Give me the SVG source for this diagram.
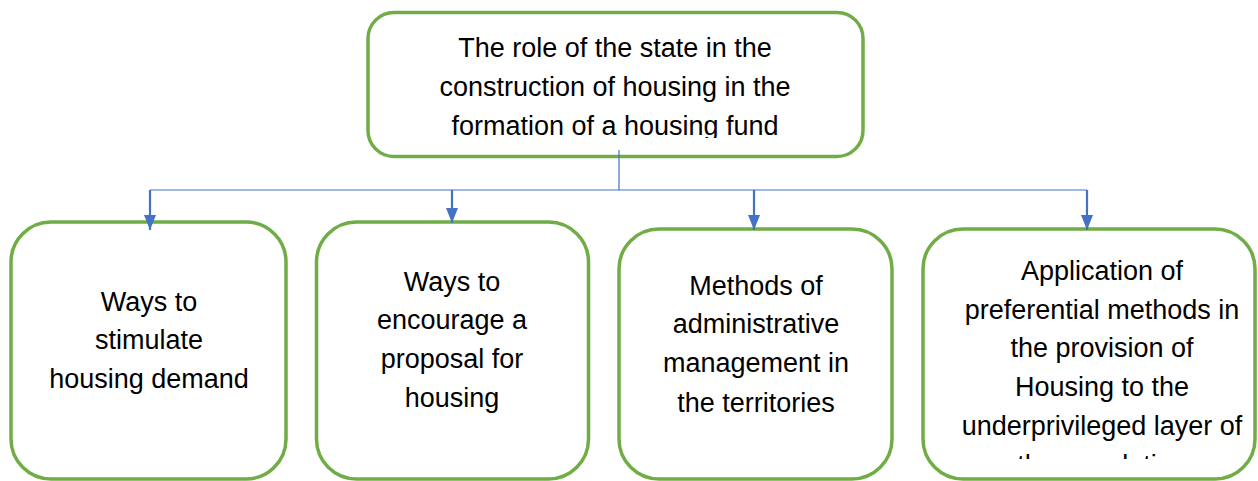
<svg xmlns="http://www.w3.org/2000/svg" width="1258" height="481" viewBox="0 0 1258 481">
<style>
.box{fill:#ffffff;stroke:#70AD47;stroke-width:3.5}
.t{font-family:"Liberation Sans",Arial,sans-serif;font-size:27px;fill:#000000;text-anchor:middle}
.thin{fill:none;stroke:#4472C4;stroke-width:1.2}
.drop{fill:none;stroke:#4472C4;stroke-width:2.2}
</style>
<defs>
<marker id="arr" viewBox="0 0 15 12" refX="15" refY="6" markerWidth="15" markerHeight="12" markerUnits="userSpaceOnUse" orient="auto">
<path d="M0,0 L15,6 L0,12 Z" fill="#4472C4"/>
</marker>
<clipPath id="clipTop"><rect x="360" y="0" width="520" height="138"/></clipPath>
<clipPath id="clipB4"><rect x="900" y="200" width="358" height="259"/></clipPath>
</defs>
<rect width="1258" height="481" fill="#ffffff"/>
<g id="n0">
<rect class="box" x="368" y="12.5" width="495" height="144" rx="26" ry="26"/>
<g clip-path="url(#clipTop)">
<text class="t" x="615" y="57">The role of the state in the</text>
<text class="t" x="615" y="96">construction of housing in the</text>
<text class="t" x="615" y="135">formation of a housing fund</text>
</g>
</g>
<g id="n1">
<rect class="box" x="11" y="222" width="275" height="257" rx="40" ry="40"/>
<text class="t" x="149" y="311">Ways to</text>
<text class="t" x="149" y="349">stimulate</text>
<text class="t" x="149" y="388">housing demand</text>
</g>
<g id="n2">
<rect class="box" x="316.5" y="222" width="272" height="257" rx="40" ry="40"/>
<text class="t" x="452" y="291">Ways to</text>
<text class="t" x="452" y="329">encourage a</text>
<text class="t" x="452" y="368">proposal for</text>
<text class="t" x="452" y="407">housing</text>
</g>
<g id="n3">
<rect class="box" x="619" y="229" width="273" height="250" rx="40" ry="40"/>
<text class="t" x="756" y="295">Methods of</text>
<text class="t" x="756" y="333">administrative</text>
<text class="t" x="756" y="372">management in</text>
<text class="t" x="756" y="412">the territories</text>
</g>
<g id="n4">
<rect class="box" x="923" y="229" width="332" height="250" rx="40" ry="40"/>
<g clip-path="url(#clipB4)">
<text class="t" x="1102" y="280">Application of</text>
<text class="t" x="1102" y="319">preferential methods in</text>
<text class="t" x="1102" y="357">the provision of</text>
<text class="t" x="1102" y="396">Housing to the</text>
<text class="t" x="1102" y="435">underprivileged layer of</text>
<text class="t" x="1102" y="474">the population</text>
</g>
</g>
<g id="connectors">
<path class="thin" d="M619,150 V190 M150,190 H1087"/>
<path class="drop" d="M150,190 V230" marker-end="url(#arr)"/>
<path class="drop" d="M452,190 V223" marker-end="url(#arr)"/>
<path class="drop" d="M754,190 V230" marker-end="url(#arr)"/>
<path class="drop" d="M1087,190 V230" marker-end="url(#arr)"/>
</g>
</svg>
